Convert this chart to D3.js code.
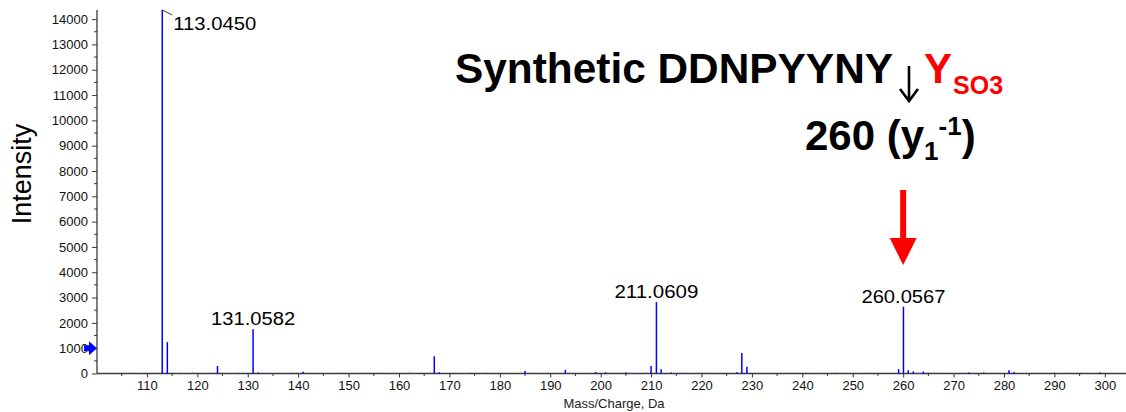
<!DOCTYPE html>
<html>
<head>
<meta charset="utf-8">
<script src="https://cdn.jsdelivr.net/npm/d3@7"></script>
<style>
  html, body { margin: 0; padding: 0; background: #fff; }
  svg { display: block; font-family: "Liberation Sans", Arial, sans-serif; }
</style>
</head>
<body>
<svg id="chart" width="1126" height="412"></svg>
<script>
// Product-ion spectrum: m/z and intensity of the principal fragment peaks
const peakMz        = [113.045, 114.05, 124.0, 131.058, 132.1, 141.0, 167.0, 168.0, 185.0, 193.0, 199.0, 201.0, 205.0, 210.0, 211.061, 212.0, 214.0, 227.0, 228.0, 229.0, 259.1, 260.057, 261.0, 262.0, 264.0, 265.0, 273.0, 276.0, 281.0, 282.0, 290.0, 299.0];
const peakIntensity = [14360,   1240,   300,   1745,    40,    70,    680,   50,    100,   140,   60,    50,    40,    300,   2820,    170,   40,    50,    810,   270,   170,   2640,    130,   80,    80,    30,    40,    40,    130,   60,    30,    40];

// Low-level background signals
const noiseMz        = [106.2, 107.1, 108.4, 112.1, 115.2, 116.1, 117.3, 119.1, 123.0, 125.2, 127.1, 133.4, 135.2, 138.1, 145.3, 149.0, 150.1, 153.2, 156.1, 159.0, 162.1, 163.2, 166.1, 173.0, 176.2, 180.0, 184.1, 186.2, 189.0, 194.1, 196.2, 203.1, 206.0, 209.1, 215.0, 216.1, 217.0, 219.1, 220.0, 221.0, 236.1, 238.0, 243.2, 244.1, 246.0, 247.1, 249.0, 253.1, 257.0, 263.1, 266.0, 268.1, 270.0, 272.1, 274.0, 278.1, 284.0, 287.1, 293.0, 296.1];
const noiseIntensity = [40,    30,    20,    30,    40,    25,    20,    50,    40,    30,    20,    30,    20,    25,    20,    30,    30,    20,    25,    40,    50,    30,    40,    20,    25,    30,    40,    20,    25,    30,    20,    30,    25,    40,    30,    40,    30,    30,    40,    30,    30,    40,    20,    30,    30,    40,    20,    25,    20,    40,    30,    30,    30,    30,    25,    30,    20,    30,    25,    30];

// Annotated peaks
const labelMz   = [113.045, 131.058, 211.061, 260.057];
const labelText = ["113.0450", "131.0582", "211.0609", "260.0567"];
const labelIntensity = [14360, 1745, 2820, 2640];

// Axis ticks
const xMajorTicks = [110, 120, 130, 140, 150, 160, 170, 180, 190, 200, 210, 220, 230, 240, 250, 260, 270, 280, 290, 300];
const yMajorTicks = [0, 1000, 2000, 3000, 4000, 5000, 6000, 7000, 8000, 9000, 10000, 11000, 12000, 13000, 14000];
const thresholdIntensity = 1000;
const markedMz = 260;

const svg = d3.select("#chart");

const x = d3.scaleLinear().domain([100.1, 304.2]).range([97, 1126]);
const y = d3.scaleLinear().domain([0, 14360]).range([373.5, 10]);

const axisColor = "#3a3a3a";

// y axis
const yAxis = d3.axisLeft(y)
  .tickValues(yMajorTicks)
  .tickFormat(d3.format("d"))
  .tickSize(5)
  .tickPadding(4);
const gy = svg.append("g").attr("transform", "translate(97,0)").call(yAxis);
gy.select(".domain").attr("stroke", axisColor).attr("stroke-width", 1.3).attr("d", `M0,${y(0)}V10`);
gy.selectAll(".tick line").attr("stroke", axisColor);
gy.selectAll(".tick text").attr("font-size", 13).attr("fill", "#111")
  .attr("font-family", "Liberation Sans, Arial, sans-serif");
// y minor ticks
gy.selectAll(".minor").data(d3.range(500, 14360, 1000)).enter().append("line")
  .attr("class", "minor")
  .attr("x1", -3).attr("x2", 0)
  .attr("y1", d => y(d)).attr("y2", d => y(d))
  .attr("stroke", axisColor);

// x axis
const xAxis = d3.axisBottom(x)
  .tickValues(xMajorTicks)
  .tickFormat(d3.format("d"))
  .tickSize(4)
  .tickPadding(3);
const gx = svg.append("g").attr("transform", `translate(0,${y(0)})`).call(xAxis);
gx.select(".domain").attr("stroke", axisColor).attr("stroke-width", 1.5).attr("d", "M97,0H1126");
gx.selectAll(".tick line").attr("stroke", axisColor);
gx.selectAll(".tick text").attr("font-size", 13).attr("fill", "#111")
  .attr("font-family", "Liberation Sans, Arial, sans-serif");
gx.selectAll(".minor").data(d3.range(105, 304, 10)).enter().append("line")
  .attr("class", "minor")
  .attr("x1", d => x(d)).attr("x2", d => x(d))
  .attr("y1", 0).attr("y2", 2.5)
  .attr("stroke", axisColor);

// axis titles
svg.append("text")
  .attr("transform", "translate(31,174) rotate(-90)")
  .attr("text-anchor", "middle")
  .attr("font-size", 27)
  .attr("fill", "#000")
  .text("Intensity");

svg.append("text")
  .attr("x", 614).attr("y", 408)
  .attr("text-anchor", "middle")
  .attr("font-size", 13)
  .attr("fill", "#222")
  .text("Mass/Charge, Da");

// background signals
svg.append("g").selectAll("line").data(d3.zip(noiseMz, noiseIntensity)).enter().append("line")
  .attr("x1", d => x(d[0])).attr("x2", d => x(d[0]))
  .attr("y1", y(0)).attr("y2", d => y(d[1]))
  .attr("stroke", "#6f6fff")
  .attr("stroke-width", 1.2);

// fragment peaks
svg.append("g").selectAll("line").data(d3.zip(peakMz, peakIntensity)).enter().append("line")
  .attr("x1", d => x(d[0])).attr("x2", d => x(d[0]))
  .attr("y1", y(0)).attr("y2", d => y(d[1]))
  .attr("stroke", "#0000ff")
  .attr("stroke-width", 1.5);

// peak annotations
const labels = svg.append("g").attr("font-size", 18).attr("fill", "#000");
labelMz.forEach((m, i) => {
  if (i === 0) {
    // base peak: label set off to the right with a short leader
    const px = x(m), py = y(labelIntensity[i]);
    svg.append("path")
      .attr("d", `M${px},${py}L${px + 10},${py + 5}`)
      .attr("stroke", "#000").attr("stroke-width", 0.8).attr("fill", "none");
    labels.append("text").attr("x", px + 11).attr("y", py + 20)
      .attr("textLength", 83).attr("lengthAdjust", "spacingAndGlyphs")
      .text(labelText[i]);
  } else {
    labels.append("text").attr("x", x(m)).attr("y", y(labelIntensity[i]) - 4)
      .attr("text-anchor", "middle")
      .attr("textLength", 84).attr("lengthAdjust", "spacingAndGlyphs")
      .text(labelText[i]);
  }
});

// threshold marker on the intensity axis
const ty = y(thresholdIntensity);
svg.append("path")
  .attr("d", `M84,${ty - 3}H89V${ty - 7}L97,${ty}L89,${ty + 7}V${ty + 3}H84Z`)
  .attr("fill", "#0000ff");

// sequence title
const title = svg.append("g").attr("font-weight", "bold");
title.append("text")
  .attr("x", 455).attr("y", 83)
  .attr("font-size", 42).attr("fill", "#000")
  .attr("textLength", 438).attr("lengthAdjust", "spacingAndGlyphs")
  .text("Synthetic DDNPYYNY");
// cleavage arrow
svg.append("path")
  .attr("d", "M909,66V101M900,89L909,101L918,89")
  .attr("stroke", "#000").attr("stroke-width", 2.6).attr("fill", "none");
const tY = title.append("text").attr("x", 924).attr("y", 83).attr("fill", "#ff0000");
tY.append("tspan").attr("font-size", 42).text("Y");
tY.append("tspan").attr("font-size", 25).attr("dy", 11).attr("dx", 1).text("SO3");

// fragment ion annotation
const ion = title.append("text").attr("x", 805).attr("y", 150).attr("fill", "#000");
ion.append("tspan").attr("font-size", 42).text("260 (y");
ion.append("tspan").attr("font-size", 26).attr("dy", 10).text("1");
ion.append("tspan").attr("font-size", 26).attr("dy", -25).text("-1");
ion.append("tspan").attr("font-size", 42).attr("dy", 15).text(")");

// red arrow pointing to the marked peak
const ax = x(markedMz);
svg.append("path")
  .attr("d", `M${ax - 3},190H${ax + 3}V238H${ax + 13.5}L${ax},265L${ax - 13.5},238H${ax - 3}Z`)
  .attr("fill", "#ff0000");
</script>
</body>
</html>
